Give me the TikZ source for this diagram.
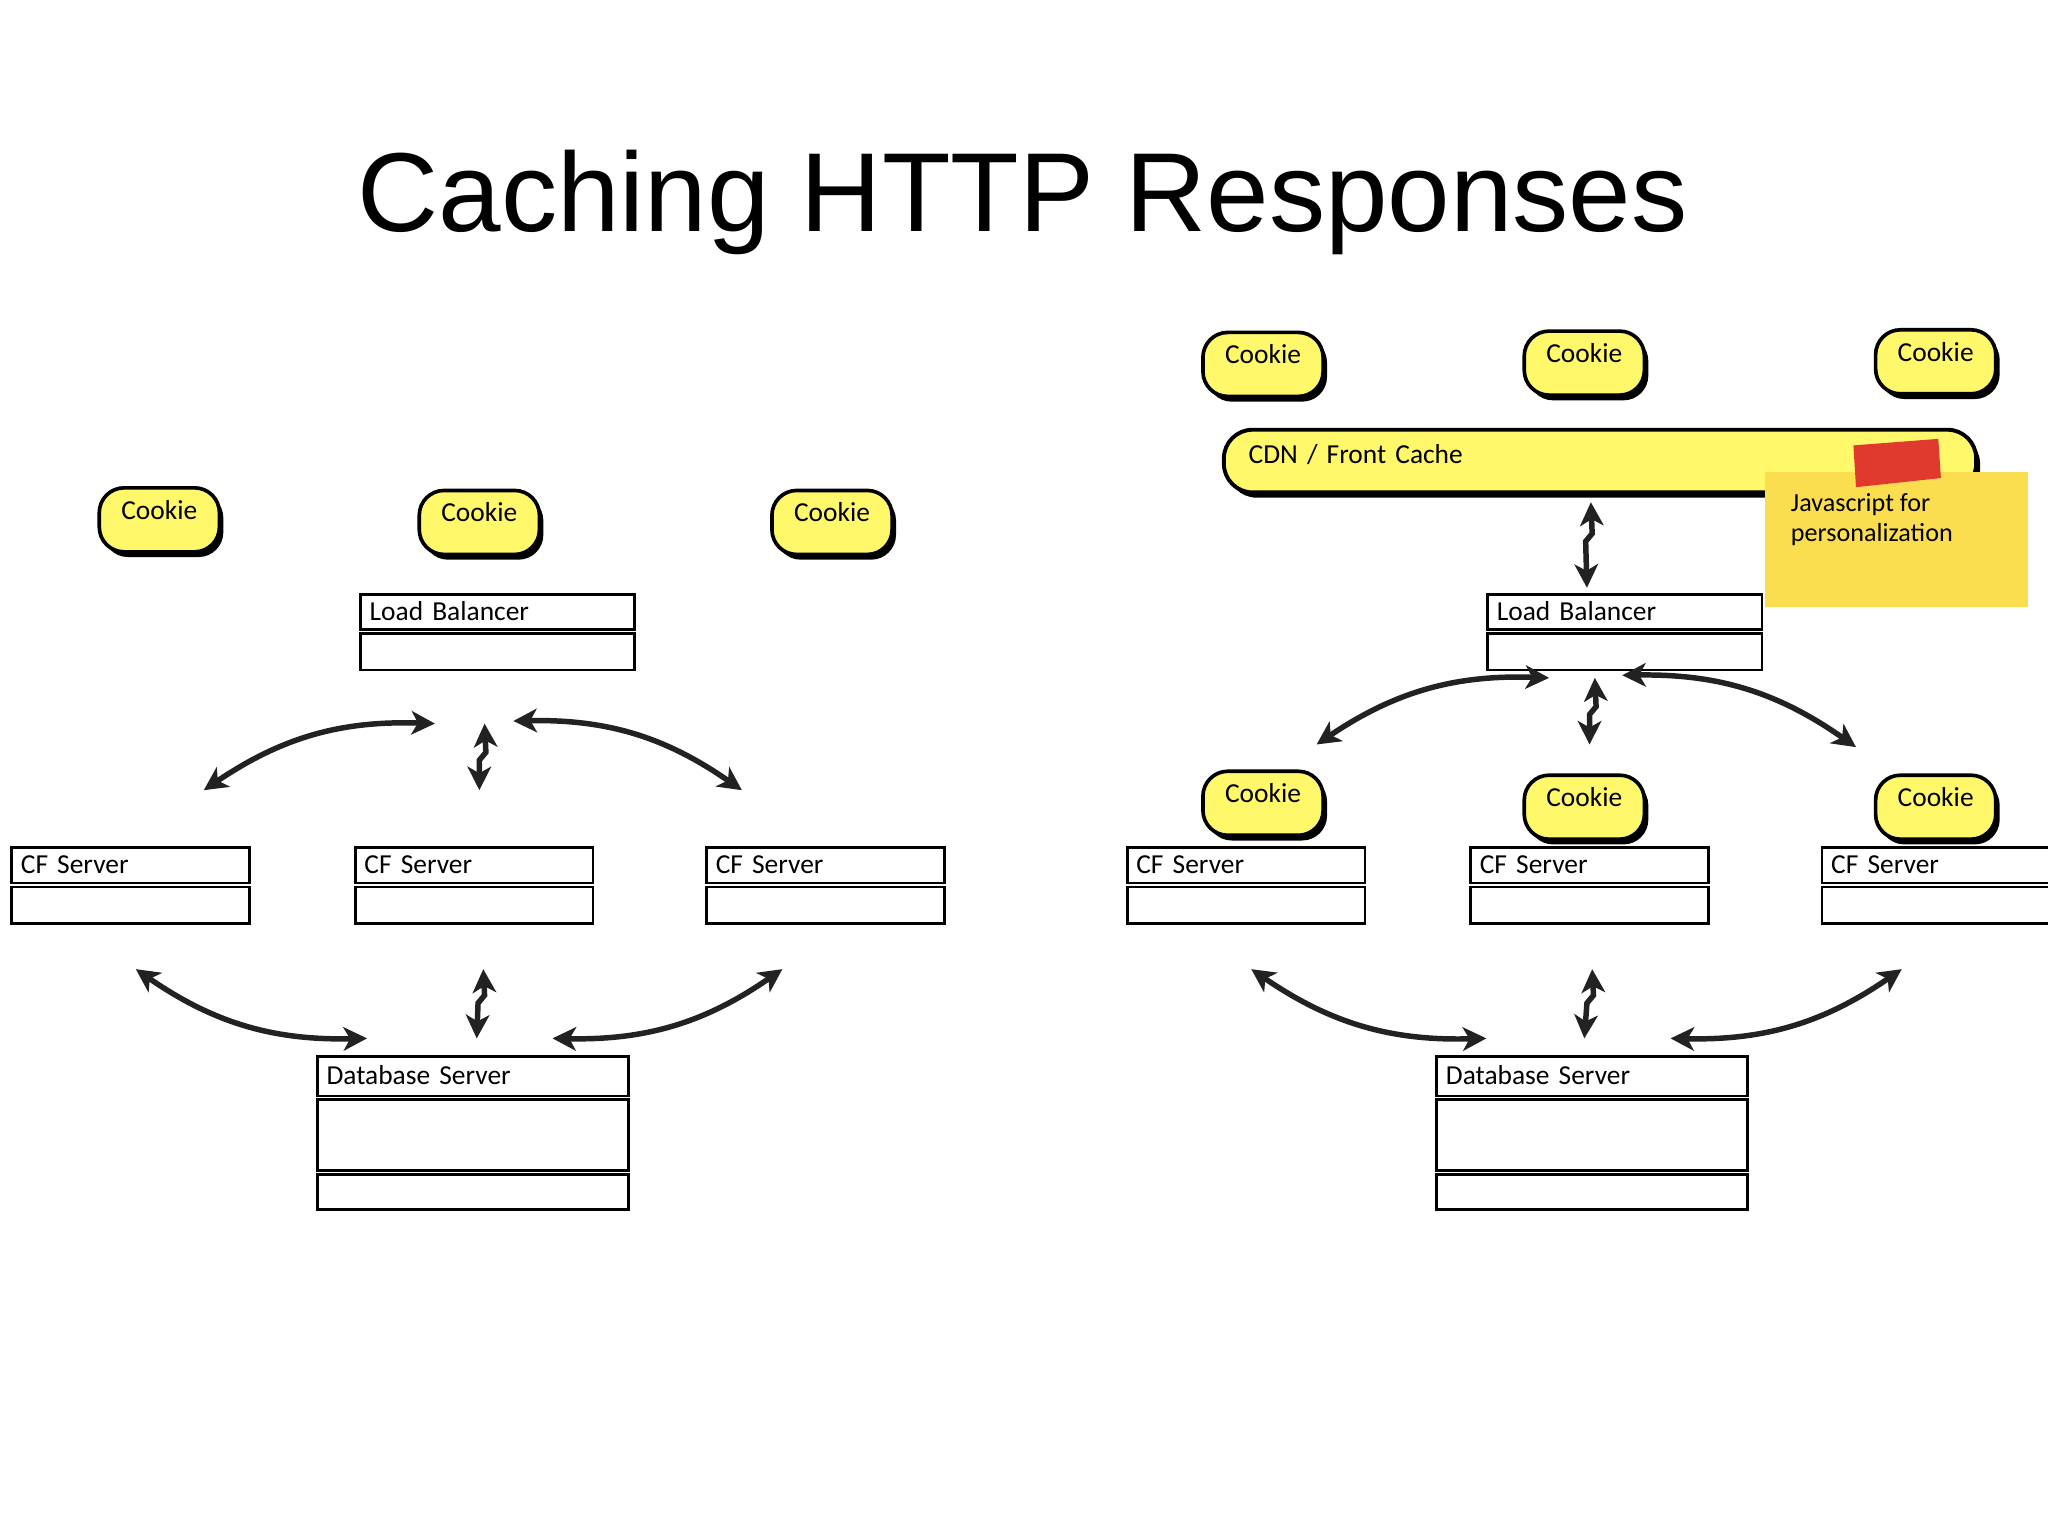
\documentclass[tikz,border=0pt]{standalone}
\usepackage{fontspec}
\setmainfont{Liberation Sans}
\newfontfamily\sketchfont{Carlito}
\usetikzlibrary{arrows.meta,shadows,positioning}
\definecolor{cookieyellow}{HTML}{FFF86A}
\definecolor{stickyyellow}{HTML}{FBDE50}
\definecolor{tapered}{HTML}{E03A2E}
\definecolor{inkgray}{HTML}{222222}
\tikzset{
  lbl/.style={font=\sketchfont\fontsize{21}{24}\selectfont},
  hdr/.style={draw, line width=2pt, anchor=north west, inner xsep=7pt, inner ysep=0pt,
    minimum height=27pt, align=left, text height=14pt, text depth=1pt, lbl},
  bodybox/.style={draw, line width=2pt, anchor=north west, minimum height=28pt, inner sep=0pt},
  cookie/.style={draw, fill=cookieyellow, line width=2.8pt, rounded corners=19pt,
    minimum width=92pt, minimum height=49pt, text height=10pt, text depth=11pt, lbl,
    drop shadow={shadow xshift=3pt, shadow yshift=-4pt, fill=black, opacity=1}},
  cdnbar/.style={cookie, line width=3pt, rounded corners=22pt, minimum height=48pt,
    text width=538pt, inner xsep=19pt, align=left, text height=10pt, text depth=7pt},
  sticky/.style={fill=stickyyellow, minimum width=201pt, minimum height=103pt, inner sep=0pt},
  link/.style={draw=inkgray, line width=4.2pt,
    {Stealth[length=18pt,width=18pt,inset=5pt]}-{Stealth[length=18pt,width=18pt,inset=5pt]}},
}
\begin{document}
\begin{tikzpicture}[x=1pt,y=1pt]
\useasboundingbox (0,0) rectangle (1568,-1175);
\clip (0,0) rectangle (1568,-1175);

\node[anchor=base, font=\fontsize{86}{90}\selectfont] (title) at (783,-177) {Caching HTTP Responses};

% cookies
\foreach \n/\x/\y in {L1/122/398,L2/367/400,L3/637/400,RT1/967/279,RT2/1213/278,RT3/1482/277,RM1/967/615,RM2/1213/618,RM3/1482/618}
  \node[cookie] (ck\n) at (\x,-\y) {Cookie};

% load balancers
\node[hdr, text width=196pt] (lbL) at (275,-454) {Load Balancer};
\node[bodybox, minimum width=210pt] (lbLb) at (275,-484) {};
\node[hdr, text width=196pt] (lbR) at (1138,-454) {Load Balancer};
\node[bodybox, minimum width=210pt] (lbRb) at (1138,-484) {};

% cf servers
\foreach \n/\x in {L1/8,L2/271,L3/540,R1/862,R2/1125,R3/1394}{
  \node[hdr, text width=168pt] (cf\n) at (\x,-648) {CF Server};
  \node[bodybox, minimum width=182pt] (cf\n b) at (\x,-678) {};
}

% database servers
\node[hdr, text width=224pt, minimum height=30pt] (dbL) at (242,-808) {Database Server};
\node[bodybox, minimum width=238pt, minimum height=54pt] (dbLb) at (242,-841) {};
\node[bodybox, minimum width=238pt, minimum height=27pt] (dbLf) at (242,-898) {};
\node[hdr, text width=224pt, minimum height=30pt] (dbR) at (1099,-808) {Database Server};
\node[bodybox, minimum width=238pt, minimum height=54pt] (dbRb) at (1099,-841) {};
\node[bodybox, minimum width=238pt, minimum height=27pt] (dbRf) at (1099,-898) {};

% cdn with sticky note
\node[cdnbar] (cdn) at (1225,-353) {CDN / Front Cache};
\node[sticky] (note) at (1452,-413) {};
\node[anchor=north west, align=left, inner sep=0pt, font=\sketchfont\fontsize{20}{23}\selectfont]
  (notetxt) at (1371,-378) {Javascript for\\personalization};
\fill[tapered] (1419,-341) -- (1484,-336) -- (1486,-366) -- (1421,-373) -- cycle;

% left links
\draw[link] ([xshift=56pt,yshift=43pt]cfL1.north) to[bend left=18] ([xshift=-48pt,yshift=-40pt]lbLb.south);
\draw[link] ([xshift=-10pt,yshift=-40pt]lbLb.south) -- ++(1,-22) -- ++(-5,-6) -- ([xshift=4pt,yshift=43pt]cfL2.north);
\draw[link] ([xshift=12pt,yshift=-38pt]lbLb.south) to[bend left=18] ([xshift=-64pt,yshift=43pt]cfL3.north);
\draw[link] ([xshift=4pt,yshift=-34pt]cfL1b.south) to[bend right=18] ([xshift=-81pt,yshift=13pt]dbL.north);
\draw[link] ([xshift=7pt,yshift=-34pt]cfL2b.south) -- ++(1,-20) -- ++(-5,-6) -- ([xshift=3pt,yshift=13pt]dbL.north);
\draw[link] ([xshift=-33pt,yshift=-34pt]cfL3b.south) to[bend left=18] ([xshift=61pt,yshift=13pt]dbL.north);

% right links
\draw[link] ([xshift=-7pt,yshift=-6pt]cdn.south) -- ++(1,-24) -- ++(-5,-6) -- ([xshift=-29pt,yshift=4pt]lbR.north);
\draw[link] ([xshift=54pt,yshift=78pt]cfR1.north) to[bend left=18] ([xshift=-58pt,yshift=-5pt]lbRb.south);
\draw[link] ([xshift=-23pt,yshift=-5pt]lbRb.south) -- ++(1,-22) -- ++(-5,-6) -- ([yshift=78pt]cfR2.north);
\draw[link] ([xshift=-2pt,yshift=-3pt]lbRb.south) to[bend left=18] ([xshift=-65pt,yshift=76pt]cfR3.north);
\draw[link] ([xshift=4pt,yshift=-34pt]cfR1b.south) to[bend right=18] ([xshift=-81pt,yshift=13pt]dbR.north);
\draw[link] ([xshift=2pt,yshift=-34pt]cfR2b.south) -- ++(1,-20) -- ++(-5,-6) -- ([xshift=-6pt,yshift=13pt]dbR.north);
\draw[link] ([xshift=-30pt,yshift=-34pt]cfR3b.south) to[bend left=18] ([xshift=60pt,yshift=13pt]dbR.north);
\end{tikzpicture}
\end{document}
